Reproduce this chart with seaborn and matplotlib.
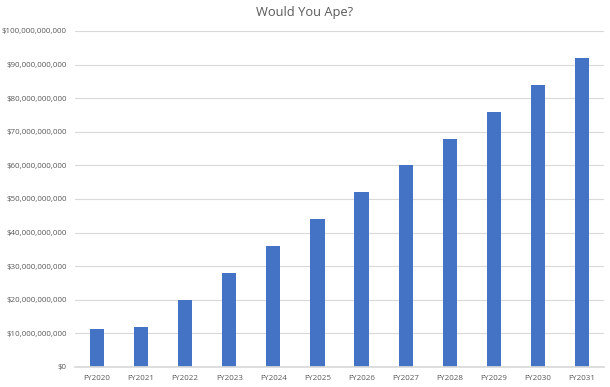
import pandas as pd
import matplotlib.pyplot as plt
import seaborn as sns
from matplotlib.ticker import FuncFormatter

years = ['FY2020', 'FY2021', 'FY2022', 'FY2023', 'FY2024', 'FY2025',
         'FY2026', 'FY2027', 'FY2028', 'FY2029', 'FY2030', 'FY2031']
revenue = [11.3e9, 11.9e9, 20e9, 28e9, 36e9, 44e9, 52e9, 60e9, 68e9, 76e9, 84e9, 92e9]

df = pd.DataFrame({'year': years, 'revenue': revenue})

sns.set_theme(style='white')
plt.rcParams['font.family'] = ['Open Sans', 'DejaVu Sans']

fig = plt.figure(figsize=(6.1, 3.87), dpi=100)
ax = fig.add_axes([75 / 610, 20 / 387, 529 / 610, 336 / 387])

sns.barplot(data=df, x='year', y='revenue', color='#4472C4', width=0.32,
            saturation=1, linewidth=0, ax=ax)

ax.set_ylim(0, 100e9)
ax.set_xlim(-0.5, 11.5)
ax.set_yticks([i * 10e9 for i in range(11)])
ax.yaxis.set_major_formatter(FuncFormatter(lambda v, p: f'${v:,.0f}'))
ax.grid(axis='y', color='#D9D9D9', linewidth=0.8)
ax.set_axisbelow(True)

for s in ['top', 'right', 'left']:
    ax.spines[s].set_visible(False)
ax.spines['bottom'].set_color('#D9D9D9')

ax.tick_params(axis='both', length=0, labelsize=5.8, colors='#595959', pad=6)
ax.set_xlabel('')
ax.set_ylabel('')

fig.text(0.5, 0.968, 'Would You Ape?', ha='center', va='center',
         fontsize=9.3, color='#595959')

fig.savefig('out.png', dpi=100)
